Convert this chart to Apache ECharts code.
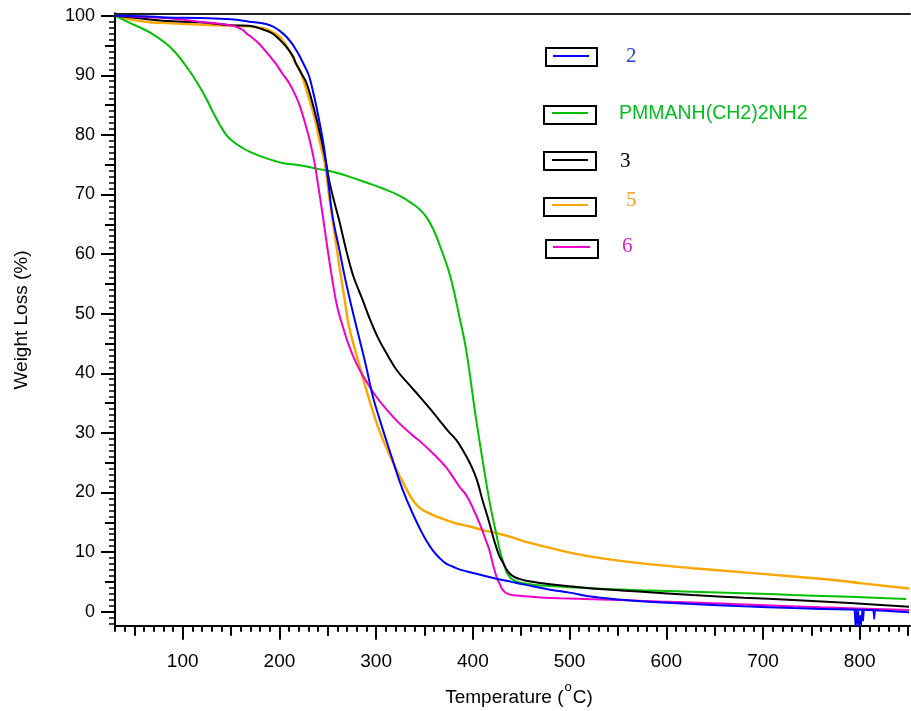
<!DOCTYPE html>
<html>
<head>
<meta charset="utf-8">
<script src="https://cdn.jsdelivr.net/npm/echarts@6/dist/echarts.min.js"></script>
<style>
html,body{margin:0;padding:0;background:#fff;}
#chart{width:911px;height:711px;}
</style>
</head>
<body>
<div id="chart"></div>
<script>
// ---------------- DATA ----------------
const seriesNames = ['2', 'PMMANH(CH2)2NH2', '3', '5', '6'];

const data2 = [[30,100],[60,99.9],[83,99.7],[117,99.6],[150,99.4],[169,99.0],[186,98.6],[193,98.2],[200,97.5],[207,96.5],[213,95.3],[217,94.3],[221,93.2],[224,92.2],[228,90.9],[231,89.7],[236,86.4],[241,82.5],[246.5,77.5],[251,71.5],[255,66.3],[262,60.7],[269,55.1],[276,50.2],[283,45.6],[290,40.9],[296.6,36.1],[303,32.6],[310,29.0],[317,25.5],[324,22.0],[331,19.0],[338,16.4],[345,14.0],[352,11.9],[359,10.2],[365,9.1],[372,8.1],[380,7.5],[386,7.1],[400,6.5],[420,5.7],[440,5.0],[455,4.5],[480,3.7],[500,3.2],[524,2.5],[560,1.9],[600,1.5],[627,1.3],[680,0.9],[731,0.6],[790,0.35],[820,0.2],[851,-0.1]];
const data2Spikes = [[794.5,0.35],[795.5,-2.4],[796.5,0.3],[797.5,-2.4],[798.5,0.3],[799.5,-2.4],[800.5,-0.6],[801.5,-2.4],[802.5,0.3],[803.5,-1.6],[804.5,0.3],null,[814,0.2],[815,-1.3],[816,0.2]];
const dataPM = [[30,100],[48,98.6],[66,97.2],[83,95.3],[92,93.9],[100,92.3],[108,90.5],[117,88.2],[125,85.9],[131,83.9],[138,81.8],[145,80.0],[152,78.9],[162,77.8],[169,77.2],[186,76.1],[203,75.3],[221,74.9],[240,74.3],[255,73.8],[272,73.0],[290,72.0],[307,71.0],[324,69.8],[338,68.4],[345,67.5],[352,66.2],[359,64.2],[365,61.8],[370,59.6],[375,57.2],[380,54.1],[385,50.3],[393,44.0],[403,32.7],[414,21.5],[419,17.0],[424,13.2],[428,10.2],[432,8.0],[436,6.3],[442,5.3],[455,4.7],[480,4.3],[524,3.9],[575,3.6],[627,3.36],[680,3.1],[731,2.8],[790,2.5],[848,2.13]];
const data3 = [[30,100],[60,99.5],[83,99.1],[117,98.9],[150,98.4],[169,98.3],[186,97.5],[193,97.0],[200,96.0],[207,94.8],[214,93.2],[217,92.0],[222,90.5],[228,88.7],[236,84.2],[243,79.5],[248,75.5],[252,71.9],[258,68.0],[262,65.5],[269,60.7],[276,56.5],[286,52.3],[295,48.5],[303,45.6],[312,43.0],[321,40.6],[333,38.3],[345,36.1],[355,34.2],[365,32.2],[375,30.2],[383,28.8],[390,27.0],[397,24.9],[404,22.2],[410,18.7],[416,15.5],[422,12.0],[427,9.5],[431,8.3],[436,6.8],[441,6.0],[448,5.5],[455,5.2],[480,4.6],[524,3.9],[575,3.35],[627,2.8],[680,2.35],[731,1.96],[790,1.45],[851,0.84]];
const data5 = [[30,100],[40,99.6],[48,99.3],[66,98.9],[83,98.75],[117,98.5],[152,98.3],[169,98.2],[186,97.8],[193,97.2],[200,96.5],[207,95.0],[213,93.3],[217,92.0],[221,91.0],[228,87.5],[236,83.1],[242,78.6],[246.5,75.6],[252,69.0],[257,63.5],[262,57.9],[267,52.8],[272,47.8],[279,43.5],[286,39.4],[294,35.0],[303,30.5],[312,27.0],[321,23.8],[330,21.0],[338,18.7],[346,17.3],[355,16.5],[368,15.6],[383,14.8],[397,14.3],[410,13.7],[424,13.2],[440,12.5],[455,11.7],[490,10.3],[524,9.2],[575,8.1],[627,7.3],[680,6.6],[731,5.9],[780,5.2],[800,4.8],[851,3.9]];
const data6 = [[30,100],[60,99.8],[83,99.6],[117,99.0],[152,98.3],[162,97.6],[166,97.0],[172,96.3],[179,95.3],[186,94.0],[193,92.6],[197,91.8],[203,90.3],[210,88.7],[217,86.5],[221,84.9],[226,82.3],[231,79.3],[236,75.6],[240,71.6],[245,66.3],[250,60.6],[255.3,55.1],[260,51.0],[266,47.6],[272,44.6],[280,41.5],[290,38.6],[300,36.1],[312,33.7],[324,31.6],[337,29.7],[348,28.2],[361,26.2],[372,24.3],[379,22.7],[386,21.0],[393,19.6],[400,17.4],[407,14.8],[413,12.2],[417,10.4],[421,7.8],[425,5.6],[428,4.6],[431,3.6],[436,3.0],[445,2.7],[470,2.4],[490,2.25],[524,2.1],[560,1.9],[593,1.7],[627,1.55],[696,1.12],[760,0.75],[851,0.3]];

const xMajorTicks = [100,200,300,400,500,600,700,800];
const xMidTicks = [50,150,250,350,450,550,650,750,850];
const yMajorTicks = [0,10,20,30,40,50,60,70,80,90,100];
const yMidTicks = [5,15,25,35,45,55,65,75,85,95];
const xMinorTicks = []; for (let v = 30; v <= 850; v += 10) xMinorTicks.push(v);
const yMinorTicks = []; for (let v = -2; v <= 100; v += 1) yMinorTicks.push(v);

// ---------------- STYLE ----------------
const colors = { '2':'#0000ff', 'PMMANH(CH2)2NH2':'#00c000', '3':'#000000', '5':'#ffa500', '6':'#f000c8' };
const textColors = { '2':'#2040d0', 'PMMANH(CH2)2NH2':'#00c020', '3':'#000000', '5':'#f5a020', '6':'#e020d0' };
const X_MIN = 30, X_MAX = 852, Y_MIN = -2.35, Y_MAX = 100.4;
const sans = "'Liberation Sans', Arial, sans-serif";
const serif = "'Liberation Serif', 'Times New Roman', serif";

function xAx(opts) {
  return Object.assign({
    type:'value', min:X_MIN, max:X_MAX, gridIndex:0, position:'bottom',
    splitLine:{show:false},
    axisLine:{show:false, onZero:false},
    axisTick:{show:false},
    axisLabel:{show:false}
  }, opts);
}
function yAx(opts) {
  return Object.assign({
    type:'value', min:Y_MIN, max:Y_MAX, gridIndex:0, position:'left',
    splitLine:{show:false},
    axisLine:{show:false, onZero:false},
    axisTick:{show:false},
    axisLabel:{show:false}
  }, opts);
}

const legendLayout = [
  {name:'2', box:[546,48,51,18], line:[553,589,56], text:[626,56], font:serif, size:21},
  {name:'PMMANH(CH2)2NH2', box:[544,106,52,18], line:[552,588,113], text:[619,114], font:sans, size:19.5},
  {name:'3', box:[544,152,52,18], line:[552,588,160], text:[620,161], font:serif, size:21},
  {name:'5', box:[544,198,52,18], line:[552,588,205], text:[626,200], font:serif, size:21},
  {name:'6', box:[546,240,52,18], line:[553,590,247], text:[622,246], font:serif, size:21}
];
const graphics = [];
legendLayout.forEach(l => {
  graphics.push({type:'rect', shape:{x:l.box[0], y:l.box[1], width:l.box[2], height:l.box[3]},
    style:{fill:'#fff', stroke:'#000', lineWidth:2}, z:100});
  graphics.push({type:'line', shape:{x1:l.line[0], y1:l.line[2], x2:l.line[1], y2:l.line[2]},
    style:{stroke:colors[l.name], lineWidth:2}, z:101});
  graphics.push({type:'text', x:l.text[0], y:l.text[1], z:101,
    style:{text:l.name, fill:textColors[l.name], font: l.size + 'px ' + l.font, verticalAlign:'middle'}});
});
// axis titles
graphics.push({type:'text', x:519, y:694, z:50,
  style:{text:'{a|Temperature (}{s|o}{a|C)}', align:'center', verticalAlign:'middle',
    rich:{a:{fontSize:19, fontFamily:sans, fill:'#000', lineHeight:26, verticalAlign:'bottom'},
          s:{fontSize:13, fontFamily:sans, fill:'#000', lineHeight:26, verticalAlign:'top', padding:[0,1,0,1]}}}});
graphics.push({type:'text', x:22, y:320, rotation:Math.PI/2, z:50,
  style:{text:'Weight Loss (%)', fontSize:19, fontFamily:sans, fill:'#000', align:'center', verticalAlign:'middle'}});

function lineSeries(name, data, z) {
  return {
    name, type:'line', data, xAxisIndex:0, yAxisIndex:0, showSymbol:false, symbol:'none',
    smooth:0.4, z,
    lineStyle:{color:colors[name], width: name === '5' ? 2.4 : 2},
    itemStyle:{color:colors[name]}, clip:true, animation:false
  };
}

const option = {
  animation:false,
  backgroundColor:'#fff',
  grid:{left:115, right:1, top:13.3, bottom:85.3, containLabel:false},
  xAxis:[
    xAx({axisLine:{show:true, onZero:false, lineStyle:{color:'#000', width:2}},
         axisTick:{show:true, length:14, customValues:xMajorTicks, lineStyle:{color:'#000', width:2}},
         axisLabel:{show:true, customValues:xMajorTicks, margin:27, fontSize:19, fontFamily:sans, color:'#000'}}),
    xAx({axisTick:{show:true, length:10, customValues:xMidTicks, lineStyle:{color:'#000', width:2}}}),
    xAx({axisTick:{show:true, length:6, customValues:xMinorTicks, lineStyle:{color:'#000', width:2}}}),
    xAx({position:'top', axisLine:{show:true, onZero:false, lineStyle:{color:'#222', width:2}}})
  ],
  yAxis:[
    yAx({axisLine:{show:true, onZero:false, lineStyle:{color:'#000', width:2}},
         axisTick:{show:true, length:14, customValues:yMajorTicks, lineStyle:{color:'#000', width:2}},
         axisLabel:{show:true, customValues:yMajorTicks, margin:20, fontSize:18, fontFamily:sans, color:'#000'}}),
    yAx({axisTick:{show:true, length:10, customValues:yMidTicks, lineStyle:{color:'#000', width:2}}}),
    yAx({axisTick:{show:true, length:6, customValues:yMinorTicks, lineStyle:{color:'#000', width:1.5}}})
  ],
  series:[
    lineSeries('5', data5, 2),
    lineSeries('PMMANH(CH2)2NH2', dataPM, 3),
    lineSeries('3', data3, 4),
    lineSeries('6', data6, 5),
    lineSeries('2', data2, 6),
    {name:'2 spikes', type:'line', data:data2Spikes, showSymbol:false, symbol:'none', smooth:false,
     connectNulls:false, z:6, clip:true, lineStyle:{color:colors['2'], width:1.5}, animation:false}
  ],
  graphic: graphics
};

const chart = echarts.init(document.getElementById('chart'), null, {renderer:'canvas'});
chart.setOption(option);
</script>
</body>
</html>
